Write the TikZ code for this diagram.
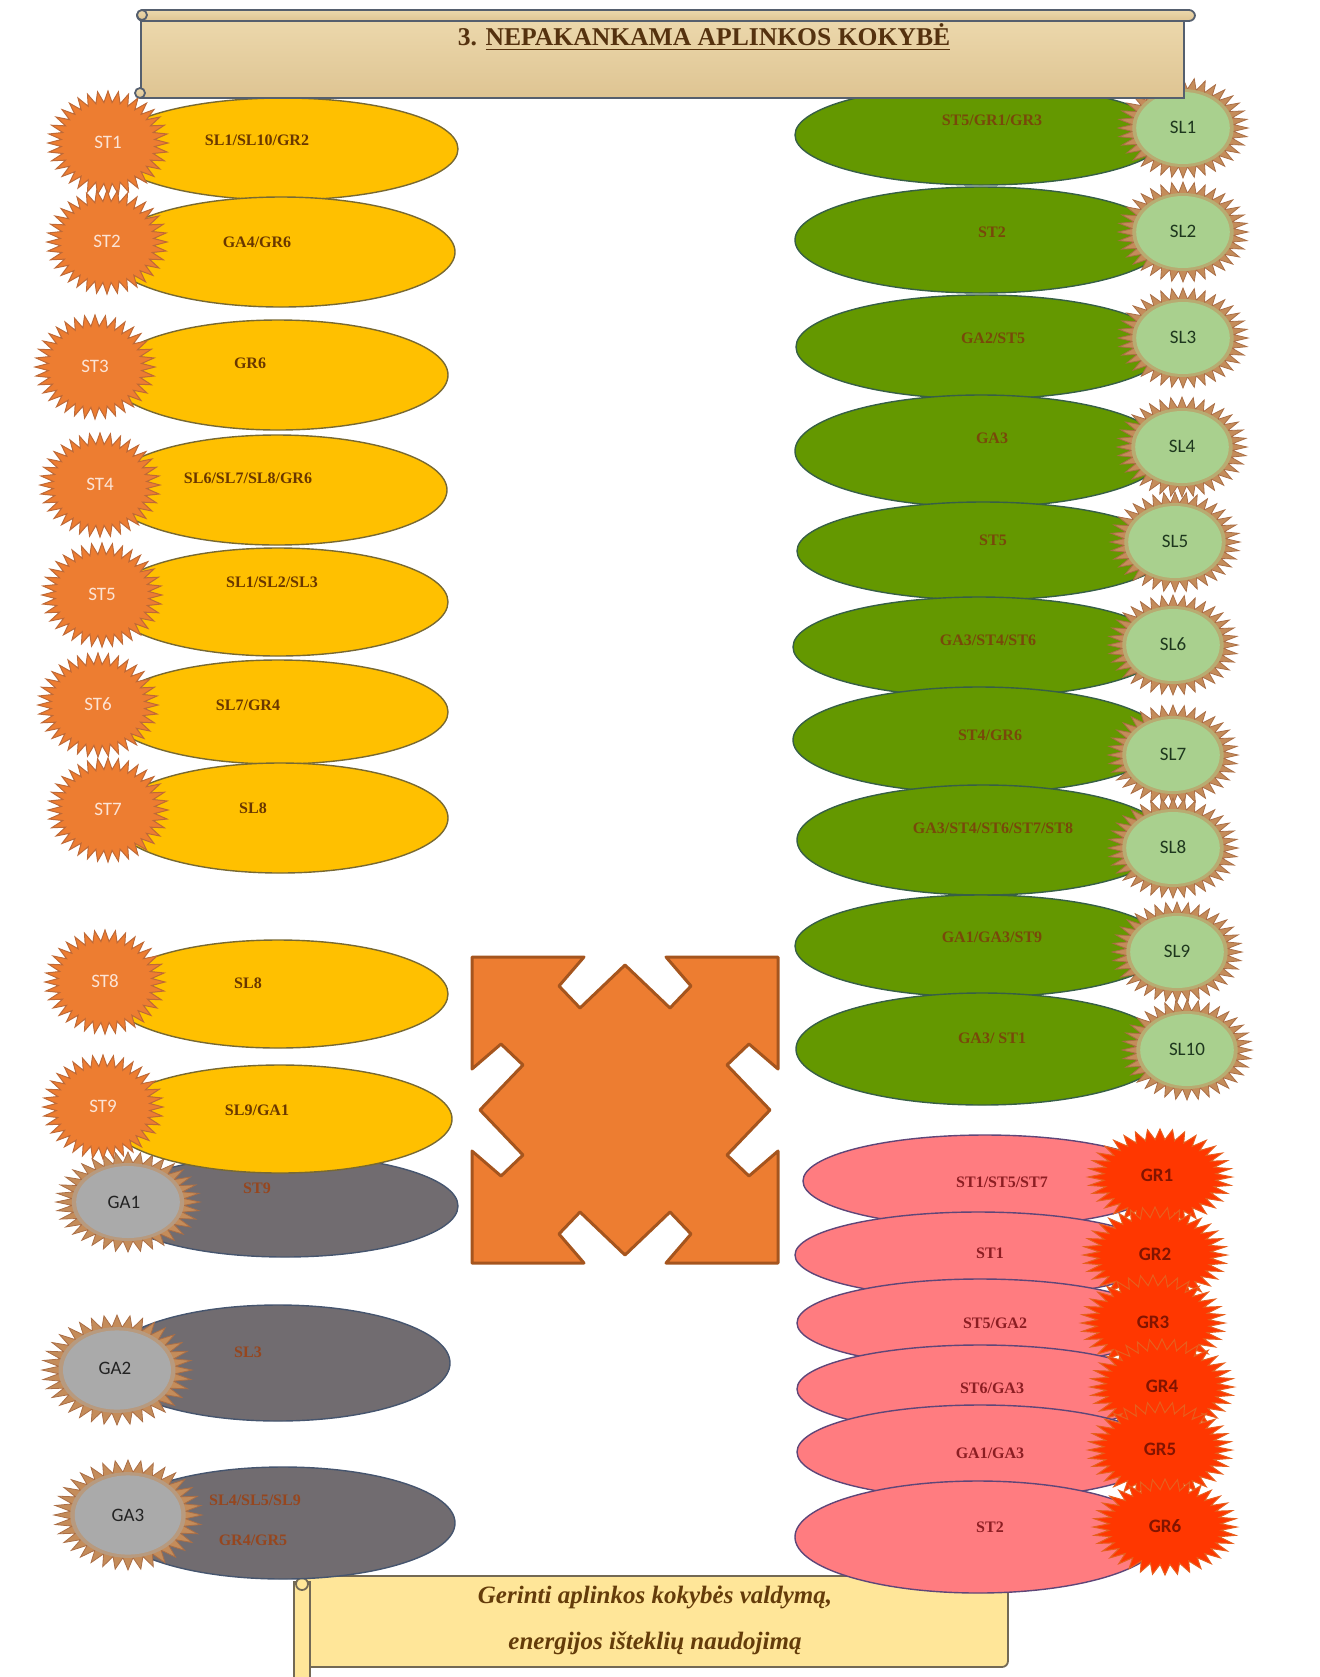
\documentclass[tikz,border=0pt]{standalone}
\usepackage{fontspec}
\setmainfont{Liberation Serif}
\newfontfamily\starfont{Carlito}
\usetikzlibrary{shapes.geometric}

\definecolor{yellowfill}{RGB}{255,192,0}
\definecolor{yellowline}{RGB}{120,105,50}
\definecolor{grayfill}{RGB}{113,108,112}
\definecolor{grayline}{RGB}{70,85,110}
\definecolor{greenfill}{RGB}{100,152,0}
\definecolor{greenline}{RGB}{55,95,70}
\definecolor{pinkfill}{RGB}{255,124,128}
\definecolor{pinkline}{RGB}{95,70,120}
\definecolor{stfill}{RGB}{237,125,49}
\definecolor{stline}{RGB}{190,105,55}
\definecolor{spiketan}{RGB}{196,140,90}
\definecolor{spikeline}{RGB}{170,110,70}
\definecolor{slcore}{RGB}{169,208,142}
\definecolor{gacore}{RGB}{170,170,170}
\definecolor{grfill}{RGB}{255,55,0}
\definecolor{grline}{RGB}{230,95,30}
\definecolor{crossfill}{RGB}{237,125,49}
\definecolor{crossline}{RGB}{165,85,30}
\definecolor{parchtop}{RGB}{236,216,172}
\definecolor{parchbot}{RGB}{222,196,146}
\definecolor{scrollline}{RGB}{85,95,110}
\definecolor{notefill}{RGB}{255,230,153}
\definecolor{noteline}{RGB}{115,105,85}
\definecolor{titletext}{RGB}{85,50,15}
\definecolor{notetext}{RGB}{100,60,10}
\definecolor{ylabel}{RGB}{105,55,0}
\definecolor{glabel}{RGB}{120,72,10}
\definecolor{plabel}{RGB}{140,30,35}
\definecolor{galabel}{RGB}{150,70,30}
\definecolor{stlabel}{RGB}{252,228,214}
\definecolor{sllabel}{RGB}{30,55,30}
\definecolor{gadark}{RGB}{35,35,35}
\definecolor{grlabel}{RGB}{130,20,0}

% spiky burst: centre x, centre y, x radius, y radius, style
\newcommand{\burst}[5]{%
  \draw[#5] plot[samples at={0,...,71}]
    ({#1+#3*(1-0.22*mod(\x,2))*cos(\x*5)},{#2+#4*(1-0.22*mod(\x,2))*sin(\x*5)}) -- cycle;}
\newcommand{\coreburst}[5]{%
  \burst{#1}{#2}{#3}{#4}{spikes}
  \fill[spiketan!55!#5] (#1,#2) ellipse [x radius={0.78*#3}, y radius={0.78*#4}];
  \fill[#5] (#1,#2) ellipse [x radius={0.72*#3}, y radius={0.72*#4}];}

\tikzset{
  ell/.style={ellipse, inner sep=0pt, line width=0.7pt},
  yellowell/.style={ell, draw=yellowline, fill=yellowfill, minimum width=170pt, minimum height=54pt},
  grayell/.style={ell, draw=grayline, fill=grayfill, minimum width=172pt, minimum height=56pt},
  greenell/.style={ell, draw=greenline, fill=greenfill, minimum width=186pt, minimum height=52pt},
  pinkell/.style={ell, draw=pinkline, fill=pinkfill, minimum width=183pt, minimum height=45pt},
  lbl/.style={inner sep=0pt, font=\bfseries\fontsize{8}{9}\selectfont},
  ylbl/.style={lbl, text=ylabel},
  glbl/.style={lbl, text=glabel},
  plbl/.style={lbl, text=plabel},
  galbl/.style={lbl, text=galabel},
  starlbl/.style={inner sep=0pt, font=\starfont\fontsize{9.5}{11}\selectfont},
  stlab/.style={starlbl, text=stlabel},
  sllab/.style={starlbl, text=sllabel},
  galab/.style={starlbl, text=gadark},
  grlab/.style={starlbl, text=grlabel, font=\starfont\bfseries\fontsize{9.5}{11}\selectfont},
  stspikes/.style={fill=stfill, draw=stline, line width=0.5pt},
  spikes/.style={fill=spiketan, draw=spikeline, line width=0.4pt},
  grspikes/.style={fill=grfill, draw=grline, line width=0.5pt},
  crossbox/.style={fill=crossfill, draw=crossline, line width=1.5pt, line join=round},
  scrollbox/.style={top color=parchtop, bottom color=parchbot, draw=scrollline, line width=0.9pt},
  notebox/.style={fill=notefill, draw=noteline, line width=0.9pt},
}

\begin{document}
\begin{tikzpicture}[x=0.5pt,y=-0.5pt]
  \useasboundingbox (0,0) rectangle (1319,1677);

  % bottom note scroll
  \draw[notebox, rounded corners=3pt] (305,1576) rectangle (1008,1667);
  \draw[notebox] (294,1582) rectangle (310,1680);
  \draw[notebox] (302,1584) circle [radius=6];
  \node[font=\bfseries\itshape\fontsize{12.5}{14}\selectfont, text=notetext] (note1) at (655,1597) {Gerinti aplinkos kokybės valdymą,};
  \node[font=\bfseries\itshape\fontsize{12.5}{14}\selectfont, text=notetext] (note2) at (655,1643) {energijos išteklių naudojimą};

  % left column
  \node[yellowell, minimum width=175pt, minimum height=51pt] (y1) at (283,149) {};
  \burst{108}{143}{60}{52}{stspikes}
  \node[stlab] (st1) at (108,142) {ST1};
  \node[ylbl] (y1t) at (257,140) {SL1/SL10/GR2};

  \node[yellowell, minimum width=174pt, minimum height=55pt] (y2) at (281,252) {};
  \burst{107}{242}{60}{52}{stspikes}
  \node[stlab] (st2) at (107,241) {ST2};
  \node[ylbl] (y2t) at (257,242) {GA4/GR6};

  \node[yellowell, minimum height=55pt] (y3) at (278,375) {};
  \burst{95}{367}{60}{52}{stspikes}
  \node[stlab] (st3) at (95,366) {ST3};
  \node[ylbl] (y3t) at (250,363) {GR6};

  \node[yellowell, minimum height=55pt] (y4) at (277,490) {};
  \burst{100}{485}{60}{52}{stspikes}
  \node[stlab] (st4) at (100,484) {ST4};
  \node[ylbl] (y4t) at (248,478) {SL6/SL7/SL8/GR6};

  \node[yellowell] (y5) at (278,602) {};
  \burst{102}{595}{60}{52}{stspikes}
  \node[stlab] (st5) at (102,594) {ST5};
  \node[ylbl] (y5t) at (272,582) {SL1/SL2/SL3};

  \node[yellowell, minimum height=52pt] (y6) at (278,712) {};
  \burst{98}{705}{60}{52}{stspikes}
  \node[stlab] (st6) at (98,704) {ST6};
  \node[ylbl] (y6t) at (248,705) {SL7/GR4};

  \node[yellowell, minimum width=168pt, minimum height=55pt] (y7) at (280,818) {};
  \burst{108}{810}{60}{52}{stspikes}
  \node[stlab] (st7) at (108,809) {ST7};
  \node[ylbl] (y7t) at (253,808) {SL8};

  \node[yellowell] (y8) at (278,994) {};
  \burst{105}{982}{60}{52}{stspikes}
  \node[stlab] (st8) at (105,981) {ST8};
  \node[ylbl] (y8t) at (248,983) {SL8};

  \node[grayell, minimum width=173pt, minimum height=51pt] (g1) at (285,1206) {};
  \coreburst{128}{1202}{72}{50}{gacore}
  \node[galab] (ga1) at (124,1202) {GA1};
  \node[galbl] (g1t) at (257,1188) {ST9};

  \node[yellowell, minimum width=172pt] (y9) at (280,1119) {};
  \burst{103}{1107}{60}{52}{stspikes}
  \node[stlab] (st9) at (103,1106) {ST9};
  \node[ylbl] (y9t) at (257,1110) {SL9/GA1};

  \node[grayell, minimum height=58pt] (g2) at (278,1363) {};
  \coreburst{117}{1370}{75}{55}{gacore}
  \node[galab] (ga2) at (115,1368) {GA2};
  \node[galbl] (g2t) at (248,1352) {SL3};

  \node[grayell] (g3) at (283,1523) {};
  \coreburst{128}{1515}{74}{55}{gacore}
  \node[galab] (ga3) at (128,1515) {GA3};
  \node[galbl] (g3t) at (255,1500) {SL4/SL5/SL9};
  \node[galbl] (g3b) at (253,1540) {GR4/GR5};

  % right column
  \node[greenell, minimum height=50pt] (r1) at (981,135) {};
  \coreburst{1183}{128}{65}{50}{slcore}
  \node[sllab] (sl1) at (1183,127) {SL1};
  \node[glbl] (r1t) at (992,120) {ST5/GR1/GR3};

  \node[greenell, minimum height=53pt] (r2) at (981,240) {};
  \coreburst{1183}{232}{65}{50}{slcore}
  \node[sllab] (sl2) at (1183,231) {SL2};
  \node[glbl] (r2t) at (992,232) {ST2};

  \node[greenell] (r3) at (982,347) {};
  \coreburst{1183}{338}{65}{50}{slcore}
  \node[sllab] (sl3) at (1183,337) {SL3};
  \node[glbl] (r3t) at (993,338) {GA2/ST5};

  \node[greenell, minimum height=56pt] (r4) at (981,451) {};
  \coreburst{1182}{447}{65}{50}{slcore}
  \node[sllab] (sl4) at (1182,446) {SL4};
  \node[glbl] (r4t) at (992,438) {GA3};

  \node[greenell, minimum height=49pt] (r5) at (983,551) {};
  \coreburst{1175}{542}{65}{50}{slcore}
  \node[sllab] (sl5) at (1175,541) {SL5};
  \node[glbl] (r5t) at (993,540) {ST5};

  \node[greenell, minimum height=50pt] (r6) at (979,647) {};
  \coreburst{1173}{645}{65}{50}{slcore}
  \node[sllab] (sl6) at (1173,644) {SL6};
  \node[glbl] (r6t) at (988,640) {GA3/ST4/ST6};

  \node[greenell, minimum height=53pt] (r7) at (979,740) {};
  \coreburst{1173}{755}{65}{50}{slcore}
  \node[sllab] (sl7) at (1173,754) {SL7};
  \node[glbl] (r7t) at (990,735) {ST4/GR6};

  \node[greenell, minimum height=55pt] (r8) at (983,840) {};
  \coreburst{1173}{848}{65}{50}{slcore}
  \node[sllab] (sl8) at (1173,847) {SL8};
  \node[glbl] (r8t) at (993,828) {GA3/ST4/ST6/ST7/ST8};

  \node[greenell, minimum height=51pt] (r9) at (981,946) {};
  \coreburst{1177}{952}{65}{50}{slcore}
  \node[sllab] (sl9) at (1177,951) {SL9};
  \node[glbl] (r9t) at (992,937) {GA1/GA3/ST9};

  \node[greenell, minimum height=56pt] (r10) at (982,1049) {};
  \coreburst{1187}{1050}{65}{50}{slcore}
  \node[sllab] (sl10) at (1187,1049) {SL10};
  \node[glbl] (r10t) at (992,1038) {GA3/ ST1};

  \node[pinkell, minimum width=182pt, minimum height=46pt] (p1) at (985,1181) {};
  \burst{1160}{1177}{72}{48}{grspikes}
  \node[grlab] (gr1) at (1157,1175) {GR1};
  \node[plbl] (p1t) at (1002,1182) {ST1/ST5/ST7};

  \node[pinkell, minimum height=43pt] (p2) at (978,1255) {};
  \burst{1155}{1255}{72}{48}{grspikes}
  \node[grlab] (gr2) at (1155,1254) {GR2};
  \node[plbl] (p2t) at (990,1253) {ST1};

  \node[pinkell, minimum height=44pt] (p3) at (980,1323) {};
  \burst{1153}{1323}{72}{48}{grspikes}
  \node[grlab] (gr3) at (1153,1322) {GR3};
  \node[plbl] (p3t) at (995,1323) {ST5/GA2};

  \node[pinkell, minimum height=44pt] (p4) at (980,1389) {};
  \burst{1162}{1387}{72}{48}{grspikes}
  \node[grlab] (gr4) at (1162,1386) {GR4};
  \node[plbl] (p4t) at (992,1388) {ST6/GA3};

  \node[pinkell, minimum height=47pt] (p5) at (980,1452) {};
  \burst{1160}{1450}{72}{48}{grspikes}
  \node[grlab] (gr5) at (1160,1449) {GR5};
  \node[plbl] (p5t) at (990,1453) {GA1/GA3};

  \node[pinkell, minimum height=56pt] (p6) at (978,1537) {};
  \burst{1165}{1527}{72}{48}{grspikes}
  \node[grlab] (gr6) at (1165,1526) {GR6};
  \node[plbl] (p6t) at (990,1527) {ST2};

  % centre shape
  \draw[crossbox, shift={(625,1110)}]
    (-153,-153) -- (-41,-153) -- (-66,-124) -- (-45,-102) -- (0,-145) -- (45,-102) -- (66,-124) -- (41,-153)
    -- (153,-153) -- (153,-41) -- (124,-66) -- (102,-45) -- (145,0) -- (102,45) -- (124,66) -- (153,41)
    -- (153,153) -- (41,153) -- (66,124) -- (45,102) -- (0,145) -- (-45,102) -- (-66,124) -- (-41,153)
    -- (-153,153) -- (-153,41) -- (-124,66) -- (-102,45) -- (-145,0) -- (-102,-45) -- (-124,-66) -- (-153,-41) -- cycle;

  % title scroll
  \draw[scrollbox] (141,19) rectangle (1184,98);
  \draw[scrollbox, rounded corners=3pt] (137,10) rectangle (1195,21);
  \draw[scrollbox] (142,15) circle [radius=5];
  \draw[scrollbox] (140,93) circle [radius=5];
  \node[font=\bfseries\fontsize{12.8}{15}\selectfont, text=titletext] (title) at (704,37) {3. \underline{NEPAKANKAMA APLINKOS KOKYBĖ}};
\end{tikzpicture}
\end{document}
